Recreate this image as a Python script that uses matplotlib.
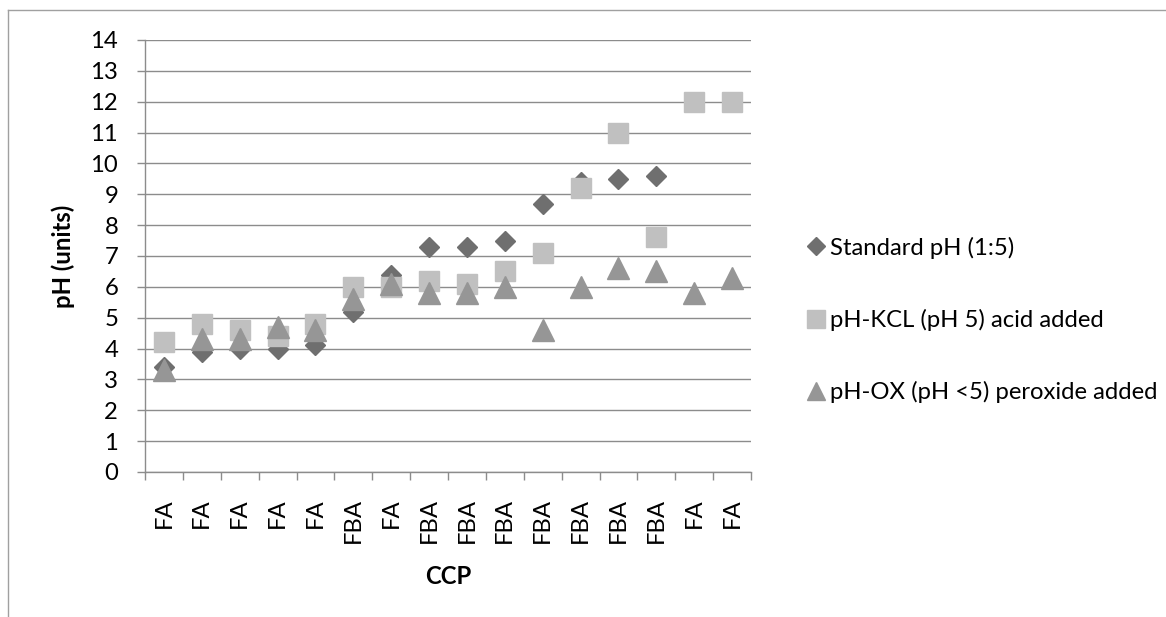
import numpy as np
import matplotlib
matplotlib.use("Agg")
import matplotlib.pyplot as plt
from matplotlib.lines import Line2D

# ---- data ----
categories = ['FA', 'FA', 'FA', 'FA', 'FA', 'FBA', 'FA', 'FBA', 'FBA', 'FBA',
              'FBA', 'FBA', 'FBA', 'FBA', 'FA', 'FA']
standard_ph = [3.4, 3.9, 4.0, 4.0, 4.1, 5.2, 6.4, 7.3, 7.3, 7.5,
               8.7, 9.4, 9.5, 9.6, np.nan, np.nan]
kcl_ph = [4.2, 4.8, 4.6, 4.4, 4.8, 6.0, 6.0, 6.2, 6.1, 6.5,
          7.1, 9.2, 11.0, 7.6, 12.0, 12.0]
ox_ph = [3.3, 4.3, 4.3, 4.7, 4.6, 5.6, 6.1, 5.8, 5.8, 6.0,
         4.6, 6.0, 6.6, 6.5, 5.8, 6.3]
series_names = ['Standard pH (1:5)', 'pH-KCL (pH 5) acid added',
                'pH-OX (pH <5) peroxide added']
y_ticks = list(range(0, 15))

# ---- style ----
plt.rcParams['font.family'] = ['Lato', 'DejaVu Sans']
FS = 17.2
W, H = 1166, 617
grid_c = '#8C8C8C'

fig = plt.figure(figsize=(W / 100, H / 100), dpi=100)
left, right, top, bottom = 145, 751, 40, 472
ax = fig.add_axes([left / W, 1 - bottom / H, (right - left) / W, (bottom - top) / H])

x = np.arange(len(categories))
ax.plot(x, standard_ph, linestyle='none', marker='D', markersize=10.3,
        color='#6F6F6F', label=series_names[0], zorder=3)
ax.plot(x, kcl_ph, linestyle='none', marker='s', markersize=14.8,
        color='#C0C0C0', label=series_names[1], zorder=4)
ax.plot(x, ox_ph, linestyle='none', marker='^', markersize=15.2,
        color='#969696', label=series_names[2], zorder=5)

ax.set_xlim(-0.5, len(categories) - 0.5)
ax.set_ylim(0, 14)
ax.set_yticks(y_ticks)
ax.yaxis.grid(True, color=grid_c, linewidth=1.0)
ax.set_axisbelow(True)

ax.set_xticks(x)
ax.set_xticklabels(categories, rotation=90, fontsize=FS)
ax.set_xticks(np.arange(-0.5, len(categories), 1.0), minor=True)
ax.tick_params(axis='x', which='major', length=0, pad=19)
ax.tick_params(axis='x', which='minor', length=5.8, width=1.0, color=grid_c, direction='out')
ax.tick_params(axis='y', which='major', length=5.8, width=1.0, color=grid_c,
               direction='out', pad=13.5, labelsize=FS)

for s in ['top', 'right']:
    ax.spines[s].set_visible(False)
for s in ['left', 'bottom']:
    ax.spines[s].set_color(grid_c)
    ax.spines[s].set_linewidth(1.0)

ax.set_ylabel('pH (units)', fontsize=FS, fontweight='bold')
ax.yaxis.set_label_coords((75 - left) / (right - left), 0.5)
ax.set_xlabel('CCP', fontsize=FS, fontweight='bold')
ax.xaxis.set_label_coords(0.5, (bottom - 565) / (bottom - top))

leg = ax.legend(loc='center left', frameon=False, fontsize=FS,
                bbox_to_anchor=(807 / W, 1 - 320 / H), bbox_transform=fig.transFigure,
                handlelength=0.75, handletextpad=0.22, labelspacing=2.1,
                borderpad=0, borderaxespad=0, markerscale=0.85)

# outer chart frame (left and top edges visible)
fig.add_artist(Line2D([7.5 / W, 7.5 / W], [0, 1 - 10 / H], transform=fig.transFigure,
                      color='#A0A0A0', linewidth=1.0))
fig.add_artist(Line2D([7.5 / W, 1], [1 - 10 / H, 1 - 10 / H], transform=fig.transFigure,
                      color='#A0A0A0', linewidth=1.0))

fig.savefig('out.png', dpi=100)
